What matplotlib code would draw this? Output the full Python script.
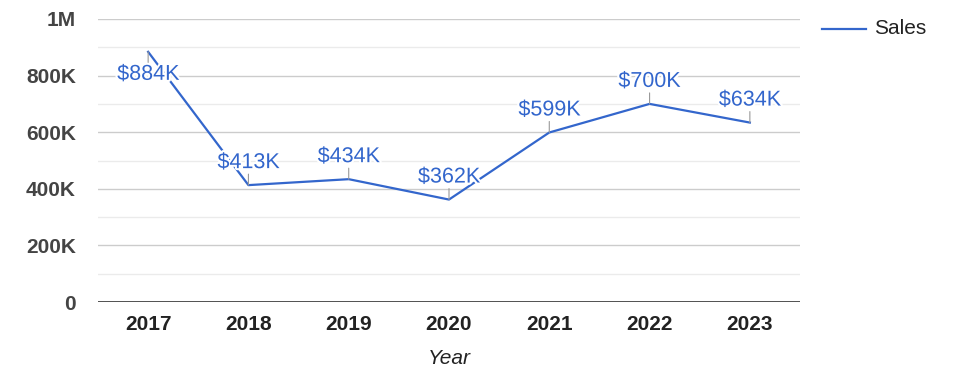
import numpy as np
import matplotlib
matplotlib.use("Agg")
import matplotlib.pyplot as plt
import matplotlib.patheffects as pe
from matplotlib.lines import Line2D

years = ["2017", "2018", "2019", "2020", "2021", "2022", "2023"]
sales = [884000, 413000, 434000, 362000, 599000, 700000, 634000]
labels = ["$884K", "$413K", "$434K", "$362K", "$599K", "$700K", "$634K"]
yticks = [0, 200000, 400000, 600000, 800000, 1000000]
yticklabels = ["0", "200K", "400K", "600K", "800K", "1M"]

plt.rcParams['font.family'] = ['Liberation Sans', 'DejaVu Sans']

blue = '#3366cc'
fig = plt.figure(figsize=(9.75, 3.78), dpi=100)
ax = fig.add_axes([98 / 975, 76 / 378, 702 / 975, 283 / 378])

x = np.arange(len(years))
ax.set_xlim(-0.5, len(years) - 0.5)
ax.set_ylim(0, 1000000)

# gridlines
for v in np.arange(100000, 1000001, 100000):
    if v % 200000 == 0:
        ax.axhline(v, color='#cccccc', lw=1, zorder=0)
    else:
        ax.axhline(v, color='#ebebeb', lw=1, zorder=0)
ax.axhline(0, color='#333333', lw=1.2, zorder=1)

ax.plot(x, sales, color=blue, lw=1.6, zorder=2)

halo = [pe.withStroke(linewidth=3, foreground='white')]
for i in range(len(years)):
    if sales[i] > 800000:
        d = -1
    else:
        d = 1
    ax.annotate('', xy=(x[i], sales[i]), xytext=(0, 11 * d),
                textcoords='offset pixels',
                arrowprops=dict(arrowstyle='-', color='#999999', lw=0.8,
                                shrinkA=0, shrinkB=0), zorder=3)
    ax.annotate(labels[i], xy=(x[i], sales[i]),
                xytext=(0, 12 if d > 0 else -12),
                textcoords='offset pixels', ha='center',
                va='bottom' if d > 0 else 'top',
                color=blue, fontsize=15.5, path_effects=halo, zorder=4)

ax.set_xticks(x)
ax.set_xticklabels(years, fontsize=15, fontweight='bold', color='#222222')
ax.set_yticks(yticks)
ax.set_yticklabels(yticklabels, fontsize=15, fontweight='bold', color='#444444')
ax.tick_params(axis='x', length=0, pad=9)
ax.tick_params(axis='y', length=0, pad=16)
for s in ax.spines.values():
    s.set_visible(False)

ax.set_xlabel('Year', fontsize=15, fontstyle='italic', color='#222222', labelpad=11)

# legend
fig.add_artist(Line2D([822 / 975, 866 / 975], [349 / 378, 349 / 378],
                      color=blue, lw=1.6, transform=fig.transFigure))
fig.text(874 / 975, 349 / 378, 'Sales', fontsize=15, color='#222222',
         va='center', ha='left')

fig.savefig('out.png', dpi=100)
